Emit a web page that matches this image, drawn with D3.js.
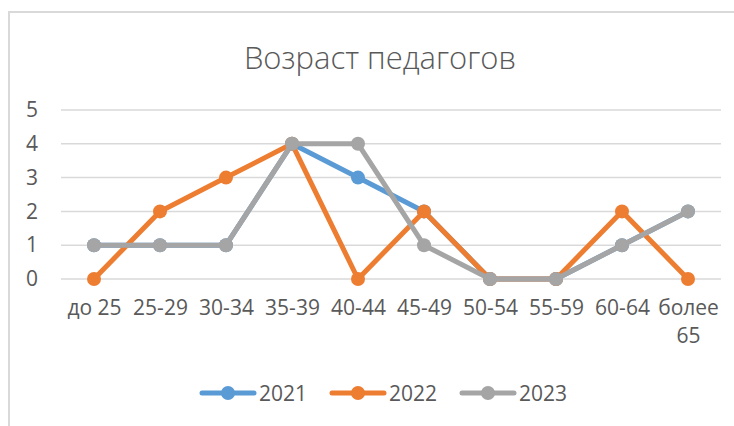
<!DOCTYPE html>
<html>
<head>
<meta charset="utf-8">
<script src="https://cdn.jsdelivr.net/npm/d3@7"></script>
<style>
  body { margin: 0; background: #fff; }
  text { font-family: "Open Sans", sans-serif; fill: #595959; }
</style>
</head>
<body>
<div id="chart"></div>
<script>
const categories = ["до 25", "25-29", "30-34", "35-39", "40-44", "45-49", "50-54", "55-59", "60-64", "более 65"];
const years = ["2021", "2022", "2023"];
const values2021 = [1, 1, 1, 4, 3, 2, 0, 0, 1, 2];
const values2022 = [0, 2, 3, 4, 0, 2, 0, 0, 2, 0];
const values2023 = [1, 1, 1, 4, 4, 1, 0, 0, 1, 2];
const yTicks = [0, 1, 2, 3, 4, 5];
const colors = ["#5B9BD5", "#ED7D31", "#A5A5A5"];

const series = [values2021, values2022, values2023].map((v, i) => ({name: years[i], values: v, color: colors[i]}));

const width = 734, height = 426;
const margin = {top: 110, right: 13, bottom: 147, left: 61};

const svg = d3.select("#chart").append("svg")
    .attr("width", width)
    .attr("height", height);

// chart frame
svg.append("rect")
    .attr("x", 9).attr("y", 12)
    .attr("width", width).attr("height", height)
    .attr("fill", "none")
    .attr("stroke", "#D9D9D9")
    .attr("stroke-width", 2);

svg.append("text")
    .attr("x", 380).attr("y", 69)
    .attr("text-anchor", "middle")
    .style("font-size", "31px")
    .style("font-weight", 300)
    .text("Возраст педагогов");

const x = d3.scalePoint()
    .domain(categories)
    .range([margin.left, width - margin.right])
    .padding(0.5);

const y = d3.scaleLinear()
    .domain([0, 5])
    .range([height - margin.bottom, margin.top]);

// gridlines
svg.append("g")
  .selectAll("line")
  .data(yTicks)
  .join("line")
    .attr("x1", margin.left).attr("x2", width - margin.right)
    .attr("y1", d => y(d)).attr("y2", d => y(d))
    .attr("stroke", "#D9D9D9")
    .attr("stroke-width", 1.5);

// y axis labels
const yAxis = svg.append("g")
    .attr("transform", `translate(${margin.left - 23},0)`)
    .call(d3.axisLeft(y).tickValues(yTicks).tickFormat(d3.format("d")).tickSize(0).tickPadding(0));
yAxis.select(".domain").remove();
yAxis.selectAll("text").style("font-size", "21px").attr("fill", "#595959").style("font-family", "Open Sans, sans-serif");

// x axis labels
const xAxis = svg.append("g")
    .attr("transform", `translate(0,${height - margin.bottom + 21})`)
    .call(d3.axisBottom(x).tickSize(0).tickPadding(0));
xAxis.select(".domain").remove();
xAxis.selectAll("text")
    .style("font-size", "21px")
    .attr("fill", "#595959")
    .style("font-family", "Open Sans, sans-serif")
    .each(function(d) {
      const t = d3.select(this);
      const parts = d.split(" ");
      if (d === "более 65") {
        t.text(null);
        parts.forEach((p, i) => t.append("tspan").attr("x", 0).attr("dy", i === 0 ? "0.71em" : "1.35em").text(p));
      }
    });

const line = d3.line()
    .x((d, i) => x(categories[i]))
    .y(d => y(d));

const g = svg.append("g");
series.forEach(s => {
  g.append("path")
      .datum(s.values)
      .attr("d", line)
      .attr("fill", "none")
      .attr("stroke", s.color)
      .attr("stroke-width", 5)
      .attr("stroke-linejoin", "round");
  g.selectAll(null)
      .data(s.values)
      .join("circle")
      .attr("cx", (d, i) => x(categories[i]))
      .attr("cy", d => y(d))
      .attr("r", 7)
      .attr("fill", s.color);
});

// legend
const legendX = [200, 330, 460];
const legend = svg.append("g");
series.forEach((s, i) => {
  const lg = legend.append("g").attr("transform", `translate(${legendX[i]},393)`);
  lg.append("line")
      .attr("x1", 2).attr("x2", 54)
      .attr("stroke", s.color).attr("stroke-width", 5)
      .attr("stroke-linecap", "round");
  lg.append("circle").attr("cx", 28).attr("r", 7).attr("fill", s.color);
  lg.append("text")
      .attr("x", 59).attr("y", 7.5)
      .style("font-size", "21px")
      .text(s.name);
});
</script>
</body>
</html>
